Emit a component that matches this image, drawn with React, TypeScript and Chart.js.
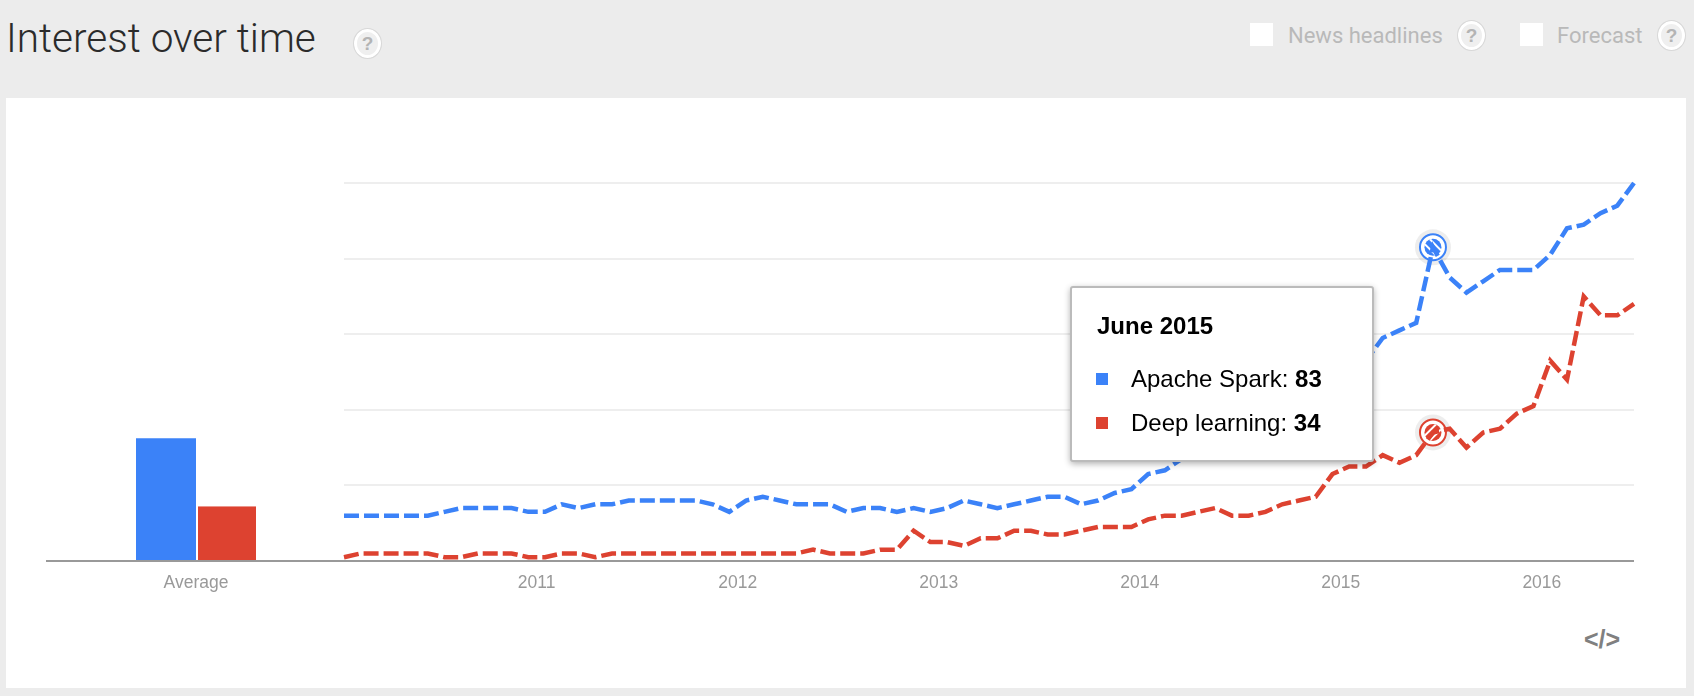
import { useEffect, useRef } from "react";
import Chart from "chart.js/auto";

const seriesNames = ["Apache Spark", "Deep learning"];
const seriesColors = ["#3b82f8", "#dd4230"];
const averages = [32.5, 14.5];

// monthly values, Jan 2010 to Jun 2016
const sparkValues = [
  12, 12, 12, 12, 12, 12, 13, 14, 14, 14, 14, 13, 13, 15, 14, 15, 15, 16, 16, 16,
  16, 16, 15, 13, 16, 17, 16, 15, 15, 15, 13, 14, 14, 13, 14, 13, 14, 16, 15, 14,
  15, 16, 17, 17, 15, 16, 18, 19, 23, 24, 27, 28, 30, 31, 33, 36, 38, 39, 42, 45,
  48, 53, 59, 61, 63, 83, 75, 71, 74, 77, 77, 77, 81, 88, 89, 92, 94, 100,
];
const deepValues = [
  1, 2, 2, 2, 2, 2, 1, 1, 2, 2, 2, 1, 1, 2, 2, 1, 2, 2, 2, 2,
  2, 2, 2, 2, 2, 2, 2, 2, 3, 2, 2, 2, 3, 3, 8, 5, 5, 4, 6, 6,
  8, 8, 7, 7, 8, 9, 9, 9, 11, 12, 12, 13, 14, 12, 12, 13, 15, 16, 17, 23,
  25, 25, 28, 26, 28, 34, 35, 30, 34, 35, 39, 41, 53, 48, 70, 65, 65, 68,
];
const yearTicks = [11.5, 23.5, 35.5, 47.5, 59.5, 71.5];
const yearLabels = ["2011", "2012", "2013", "2014", "2015", "2016"];
const yTicks = [0, 20, 40, 60, 80, 100];
const hoverIndex = 65;
const hoverLabel = "June 2015";

const FONT = '"Liberation Sans", Arial, sans-serif';
const TOP_PAD = 33;
const AXIS_H = 60;
const TICK_PAD = 4;

const fixedTicks = (scale: any) => {
  scale.ticks = yTicks.map((value) => ({ value }));
};

const hoverMarkers = {
  id: "hoverMarkers",
  beforeDatasetsDraw(chart: any) {
    const ctx = chart.ctx;
    chart.data.datasets.forEach((ds: any, i: number) => {
      const pt = chart.getDatasetMeta(i).data[hoverIndex];
      const dir = i === 0 ? 1 : -1;
      ctx.save();
      ctx.beginPath();
      ctx.arc(pt.x, pt.y, 18, 0, Math.PI * 2);
      ctx.fillStyle = "rgba(0,0,0,0.07)";
      ctx.fill();
      ctx.beginPath();
      ctx.arc(pt.x, pt.y, 13, 0, Math.PI * 2);
      ctx.fillStyle = "#fff";
      ctx.fill();
      ctx.lineWidth = 2;
      ctx.strokeStyle = ds.borderColor;
      ctx.stroke();
      ctx.beginPath();
      ctx.arc(pt.x, pt.y, 8.5, 0, Math.PI * 2);
      ctx.fillStyle = ds.borderColor;
      ctx.fill();
      ctx.clip();
      ctx.strokeStyle = "#fff";
      ctx.lineWidth = 2;
      [-2.5, 2.5].forEach((off) => {
        ctx.beginPath();
        ctx.moveTo(pt.x - 10 * dir + off, pt.y - 10 - off * dir);
        ctx.lineTo(pt.x + 10 * dir + off, pt.y + 10 - off * dir);
        ctx.stroke();
      });
      ctx.restore();
    });
  },
};

function LineChart() {
  const canvasRef = useRef<HTMLCanvasElement | null>(null);

  useEffect(() => {
    if (!canvasRef.current) return;
    const chart = new Chart(canvasRef.current, {
      type: "line",
      data: {
        datasets: [sparkValues, deepValues].map((values, i) => ({
          label: seriesNames[i],
          data: values.map((y, x) => ({ x, y })),
          borderColor: seriesColors[i],
          borderWidth: 4.5,
          borderDash: [15, 5],
          pointRadius: 0,
          tension: 0,
          clip: false,
        })),
      },
      plugins: [hoverMarkers],
      options: {
        animation: false,
        responsive: false,
        layout: { padding: { top: TOP_PAD, left: 5, right: 5, bottom: 0 } },
        plugins: { legend: { display: false }, tooltip: { enabled: false } },
        scales: {
          x: {
            type: "linear",
            min: 0,
            max: 77,
            afterBuildTicks: (scale: any) => {
              scale.ticks = yearTicks.map((value) => ({ value }));
            },
            afterFit: (scale: any) => {
              scale.height = AXIS_H;
            },
            grid: { display: false },
            border: { display: false },
            ticks: {
              autoSkip: false,
              maxRotation: 0,
              padding: TICK_PAD,
              color: "#999",
              font: { family: FONT, size: 17.5 },
              callback: (value: any) => yearLabels[yearTicks.indexOf(value)],
            },
          },
          y: {
            min: 0,
            max: 100,
            afterBuildTicks: fixedTicks,
            afterFit: (scale: any) => {
              scale.width = 0;
            },
            border: { display: false },
            ticks: { display: false },
            grid: {
              drawTicks: false,
              lineWidth: 2,
              color: (c: any) => (c.tick.value === 0 ? "#999" : "#eee"),
            },
          },
        },
      },
    });
    return () => chart.destroy();
  }, []);

  return (
    <canvas
      ref={canvasRef}
      width={1300}
      height={471}
      style={{ position: "absolute", left: 339, top: 150 }}
    />
  );
}

function AverageChart() {
  const canvasRef = useRef<HTMLCanvasElement | null>(null);

  useEffect(() => {
    if (!canvasRef.current) return;
    const chart = new Chart(canvasRef.current, {
      type: "bar",
      data: {
        labels: ["Average"],
        datasets: averages.map((v, i) => ({
          label: seriesNames[i],
          data: [v],
          backgroundColor: seriesColors[i],
          borderColor: "#fff",
          borderWidth: i === 1 ? { left: 2, right: 0, top: 0, bottom: 0 } : 0,
          categoryPercentage: 0.4,
          barPercentage: 1,
        })),
      },
      options: {
        animation: false,
        responsive: false,
        layout: { padding: { top: TOP_PAD, left: 0, right: 0, bottom: 0 } },
        plugins: { legend: { display: false }, tooltip: { enabled: false } },
        scales: {
          x: {
            afterFit: (scale: any) => {
              scale.height = AXIS_H;
            },
            grid: { display: false },
            border: { display: false },
            ticks: {
              maxRotation: 0,
              padding: TICK_PAD,
              color: "#999",
              font: { family: FONT, size: 17.5 },
            },
          },
          y: {
            min: 0,
            max: 100,
            afterBuildTicks: fixedTicks,
            afterFit: (scale: any) => {
              scale.width = 0;
            },
            border: { display: false },
            ticks: { display: false },
            grid: {
              drawTicks: false,
              lineWidth: 2,
              color: (c: any) => (c.tick.value === 0 ? "#999" : "transparent"),
            },
          },
        },
      },
    });
    return () => chart.destroy();
  }, []);

  return (
    <canvas
      ref={canvasRef}
      width={300}
      height={471}
      style={{ position: "absolute", left: 46, top: 150 }}
    />
  );
}

function Help({ x, y }: { x: number; y: number }) {
  return (
    <div
      style={{
        position: "absolute",
        left: x - 14,
        top: y - 15,
        width: 27,
        height: 29,
        borderRadius: "50%",
        background: "#efefef",
        border: "1px solid #d8d8d8",
        boxShadow: "0 0 0 3px #fff inset",
        color: "#b4b4b4",
        font: `bold 19px/29px ${FONT}`,
        textAlign: "center",
      }}
    >
      ?
    </div>
  );
}

function HeaderOption({ box, text, textX, help }: { box: number; text: string; textX: number; help: number }) {
  return (
    <>
      <div style={{ position: "absolute", left: box, top: 23, width: 23, height: 23, background: "#fff" }} />
      <div
        style={{
          position: "absolute",
          left: textX,
          top: 22,
          color: "#b9b9b9",
          font: "22px/28px Roboto, sans-serif",
          whiteSpace: "nowrap",
        }}
      >
        {text}
      </div>
      <Help x={help} y={35} />
    </>
  );
}

function HoverBox() {
  const values = [sparkValues[hoverIndex], deepValues[hoverIndex]];
  const rows = [74, 118];
  return (
    <div
      style={{
        position: "absolute",
        left: 1070,
        top: 286,
        width: 300,
        height: 172,
        background: "#fff",
        border: "2px solid #bbb",
        borderRadius: 3,
        boxShadow: "0 2px 6px rgba(0,0,0,0.3)",
        color: "#000",
        font: `24px/28px ${FONT}`,
      }}
    >
      <div style={{ position: "absolute", left: 25, top: 24, fontWeight: "bold", whiteSpace: "nowrap" }}>{hoverLabel}</div>
      {seriesNames.map((name, i) => (
        <div key={name}>
          <div
            style={{
              position: "absolute",
              left: 24,
              top: rows[i] + 11,
              width: 12,
              height: 12,
              background: seriesColors[i],
            }}
          />
          <div style={{ position: "absolute", left: 59, top: rows[i] + 3, whiteSpace: "nowrap" }}>
            {name}: <b>{values[i]}</b>
          </div>
        </div>
      ))}
    </div>
  );
}

export default function App() {
  return (
    <div style={{ position: "relative", width: 1694, height: 696, background: "#ececec", overflow: "hidden" }}>
      <style>{"body{margin:0}"}</style>
      <div
        style={{
          position: "absolute",
          left: 6,
          top: 3,
          color: "#2b2b2b",
          font: "300 40.5px/70px Roboto, sans-serif",
          whiteSpace: "nowrap",
        }}
      >
        Interest over time
      </div>
      <Help x={367} y={43} />
      <HeaderOption box={1250} text="News headlines" textX={1288} help={1471} />
      <HeaderOption box={1520} text="Forecast" textX={1557} help={1671} />
      <div style={{ position: "absolute", left: 6, top: 98, width: 1680, height: 590, background: "#fff" }} />
      <AverageChart />
      <LineChart />
      <HoverBox />
      <div
        style={{
          position: "absolute",
          left: 1584,
          top: 625,
          color: "#808080",
          font: `bold 25px/28px ${FONT}`,
          whiteSpace: "nowrap",
        }}
      >
        {"</>"}
      </div>
    </div>
  );
}
